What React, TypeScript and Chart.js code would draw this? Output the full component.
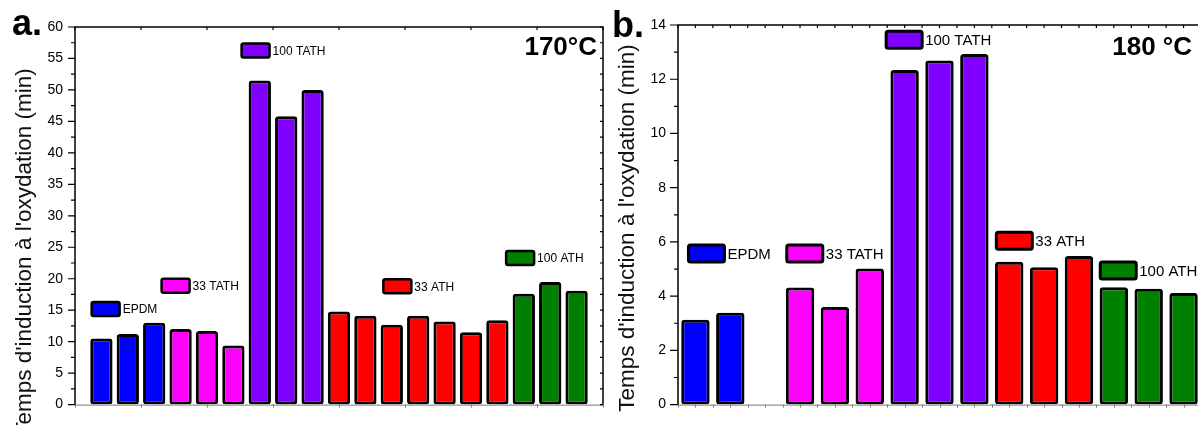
import React, { useEffect, useRef } from 'react';
import { Chart, registerables } from 'chart.js';

Chart.register(...registerables);

// ---------- data ----------
const groupNames = ['EPDM', '33 TATH', '100 TATH', '33 ATH', '100 ATH'];
const groupColors = ['#0000FF', '#FF00FF', '#7F00FF', '#FF0000', '#008000'];
const yTitle = "Temps d'induction à l'oxydation (min)";

// Panel a : 170 °C
const a_EPDM = [10.5, 11.2, 13.0];
const a_TATH33 = [12.0, 11.7, 9.4];
const a_TATH100 = [51.5, 45.8, 50.0];
const a_ATH33 = [14.8, 14.1, 12.7, 14.1, 13.2, 11.5, 13.4];
const a_ATH100 = [17.6, 19.5, 18.1];
const a_yTicks = { min: 0, max: 60, major: 5, minor: 2.5 };
const a_x = { min: 0, max: 20, tickStep: 2.5 };

// Panel b : 180 °C (third EPDM sample missing)
const b_EPDM = [3.13, 3.39, null];
const b_TATH33 = [4.32, 3.6, 5.02];
const b_TATH100 = [12.34, 12.69, 12.93];
const b_ATH33 = [5.27, 5.07, 5.48];
const b_ATH100 = [4.33, 4.27, 4.12];
const b_yTicks = { min: 0, max: 14, major: 2, minor: 1 };
const b_x = { min: 0.5, max: 15.5, tickStep: 0.5 };

const FONT = "Arial, 'Liberation Sans', sans-serif";

function buildBars(groups: (number | null)[][]) {
  const points: { x: number; y: number | null }[] = [];
  const colors: string[] = [];
  let slot = 1;
  groups.forEach((vals, gi) => {
    vals.forEach((v) => {
      points.push({ x: slot, y: v });
      colors.push(groupColors[gi]);
      slot += 1;
    });
  });
  return { points, colors };
}

const decorPlugin = {
  id: 'decor',
  afterDraw(chart: any, _args: any, o: any) {
    const { ctx, chartArea: ca } = chart;
    const xs = chart.scales.x;
    const ys = chart.scales.y;
    ctx.save();
    // bottom axis (thin grey)
    ctx.strokeStyle = '#7a7a7a';
    ctx.lineWidth = 1;
    ctx.beginPath();
    ctx.moveTo(ca.left, ca.bottom + 0.5);
    ctx.lineTo(ca.right, ca.bottom + 0.5);
    ctx.stroke();
    for (let v = o.xTickStart; v <= xs.max + 1e-9; v += o.xTickStep) {
      const px = Math.round(xs.getPixelForValue(v)) + 0.5;
      ctx.beginPath();
      ctx.moveTo(px, ca.bottom);
      ctx.lineTo(px, ca.bottom + 3);
      ctx.stroke();
    }
    // frame left/top/right
    ctx.strokeStyle = '#000';
    ctx.lineWidth = 1.5;
    ctx.beginPath();
    ctx.moveTo(ca.left, ca.bottom);
    ctx.lineTo(ca.left, ca.top);
    ctx.lineTo(ca.right, ca.top);
    ctx.lineTo(ca.right, ca.bottom);
    ctx.stroke();
    // y ticks
    ctx.lineWidth = 1.2;
    for (let v = o.yMin; v <= o.yMax + 1e-9; v += o.yMinor) {
      const py = ys.getPixelForValue(v);
      const r = v / o.yMajor;
      const major = Math.abs(r - Math.round(r)) < 1e-6;
      const len = major ? o.majorLen : o.minorLen;
      ctx.beginPath();
      ctx.moveTo(ca.left - len, py);
      ctx.lineTo(ca.left, py);
      ctx.moveTo(ca.right, py);
      ctx.lineTo(ca.right - 3, py);
      ctx.stroke();
    }
    // top ticks (inward)
    for (let v = o.xTickStart; v <= xs.max + 1e-9; v += o.xTickStep) {
      const px = xs.getPixelForValue(v);
      ctx.beginPath();
      ctx.moveTo(px, ca.top);
      ctx.lineTo(px, ca.top + 3);
      ctx.stroke();
    }
    // legend boxes
    o.legend.forEach((item: any, i: number) => {
      const bx = xs.getPixelForValue(item.x);
      const cy = ys.getPixelForValue(item.y);
      const w = o.boxW;
      const h = o.boxH;
      ctx.beginPath();
      if (ctx.roundRect) ctx.roundRect(bx, cy - h / 2, w, h, 2);
      else ctx.rect(bx, cy - h / 2, w, h);
      ctx.fillStyle = groupColors[i];
      ctx.fill();
      ctx.lineWidth = o.boxBorder;
      ctx.strokeStyle = '#000';
      ctx.stroke();
      ctx.fillStyle = '#000';
      ctx.font = `${o.legendSize}px ${FONT}`;
      ctx.textAlign = 'left';
      ctx.textBaseline = 'middle';
      ctx.fillText(groupNames[i], bx + w + 3, cy + 1);
    });
    // panel letter
    ctx.fillStyle = '#000';
    ctx.font = `bold 36px ${FONT}`;
    ctx.textAlign = 'left';
    ctx.textBaseline = 'alphabetic';
    ctx.fillText(o.letter, o.letterX, o.letterY);
    // temperature
    ctx.font = `bold 26px ${FONT}`;
    ctx.textAlign = 'right';
    ctx.fillText(o.temp, o.tempX, o.tempY);
    // y title
    ctx.save();
    ctx.translate(o.titleX, o.titleY);
    ctx.rotate(-Math.PI / 2);
    ctx.font = `22.5px ${FONT}`;
    ctx.textAlign = 'center';
    ctx.textBaseline = 'alphabetic';
    ctx.fillStyle = '#111';
    ctx.fillText(yTitle, 0, 0);
    ctx.restore();
    ctx.restore();
  },
};

function makeConfig(p: any) {
  const { points, colors } = buildBars(p.groups);
  return {
    type: 'bar',
    data: {
      datasets: [
        {
          data: points,
          backgroundColor: colors,
          borderColor: '#000',
          borderWidth: 3,
          borderSkipped: false,
          borderRadius: 3,
          barPercentage: p.barPct,
          categoryPercentage: 1,
        },
      ],
    },
    options: {
      responsive: false,
      animation: false,
      events: [],
      layout: { padding: { left: 0, right: 9, top: p.padTop, bottom: p.padBottom } },
      scales: {
        x: {
          type: 'linear',
          display: false,
          offset: false,
          grid: { offset: false },
          min: p.xr.min,
          max: p.xr.max,
        },
        y: {
          type: 'linear',
          min: p.yt.min,
          max: p.yt.max,
          afterFit: (s: any) => {
            s.width = p.yWidth;
          },
          grid: { display: false, drawTicks: false },
          border: { display: false },
          ticks: {
            stepSize: p.yt.major,
            padding: 12,
            color: '#000',
            font: { family: FONT, size: 14 },
          },
        },
      },
      plugins: {
        legend: { display: false },
        tooltip: { enabled: false },
        decor: {
          xTickStart: p.xr.min,
          xTickStep: p.xr.tickStep,
          yMin: p.yt.min,
          yMax: p.yt.max,
          yMajor: p.yt.major,
          yMinor: p.yt.minor,
          majorLen: p.majorLen,
          minorLen: 4,
          legend: p.legend,
          boxW: p.boxW,
          boxH: p.boxH,
          boxBorder: p.boxBorder,
          legendSize: p.legendSize,
          letter: p.letter,
          letterX: p.letterX,
          letterY: p.letterY,
          temp: p.temp,
          tempX: p.tempX,
          tempY: p.tempY,
          titleX: p.titleX,
          titleY: p.titleY,
        },
      },
    },
    plugins: [decorPlugin],
  };
}

const panelA = {
  groups: [a_EPDM, a_TATH33, a_TATH100, a_ATH33, a_ATH100],
  yt: a_yTicks,
  xr: a_x,
  barPct: 0.845,
  padTop: 27,
  padBottom: 14,
  yWidth: 75,
  majorLen: 7,
  legend: [
    { x: 0.63, y: 15.2 },
    { x: 3.28, y: 18.9 },
    { x: 6.31, y: 56.25 },
    { x: 11.68, y: 18.8 },
    { x: 16.33, y: 23.3 },
  ],
  boxW: 28,
  boxH: 14,
  boxBorder: 2.5,
  legendSize: 12,
  letter: 'a.',
  letterX: 12,
  letterY: 35,
  temp: '170°C',
  tempX: 597,
  tempY: 55,
  titleX: 31,
  titleY: 252,
};

const panelB = {
  groups: [b_EPDM, b_TATH33, b_TATH100, b_ATH33, b_ATH100],
  yt: b_yTicks,
  xr: b_x,
  barPct: 0.815,
  padTop: 25,
  padBottom: 15,
  yWidth: 72,
  majorLen: 8,
  legend: [
    { x: 0.8, y: 5.57 },
    { x: 3.62, y: 5.57 },
    { x: 6.47, y: 13.46 },
    { x: 9.63, y: 6.04 },
    { x: 12.61, y: 4.95 },
  ],
  boxW: 36,
  boxH: 17,
  boxBorder: 3,
  legendSize: 15,
  letter: 'b.',
  letterX: 6,
  letterY: 36.5,
  temp: '180 °C',
  tempX: 586,
  tempY: 55,
  titleX: 28,
  titleY: 228,
};

function Panel({ cfg, left, width }: { cfg: any; left: number; width: number }) {
  const ref = useRef<HTMLCanvasElement>(null);
  useEffect(() => {
    if (!ref.current) return;
    const chart = new Chart(ref.current, makeConfig(cfg) as any);
    return () => chart.destroy();
  }, [cfg]);
  return (
    <canvas
      ref={ref}
      width={width}
      height={425}
      style={{ position: 'absolute', left, top: 0, width, height: 425 }}
    />
  );
}

export default function App() {
  return (
    <div
      style={{
        position: 'fixed',
        left: 0,
        top: 0,
        width: 1198,
        height: 425,
        overflow: 'hidden',
        background: '#fff',
      }}
    >
      <Panel cfg={panelA} left={0} width={612} />
      <Panel cfg={panelB} left={606} width={604} />
    </div>
  );
}
